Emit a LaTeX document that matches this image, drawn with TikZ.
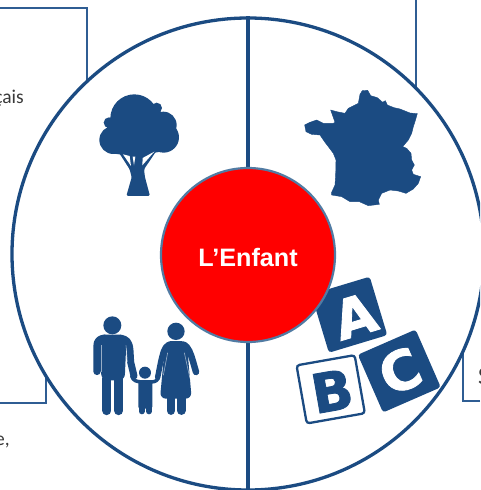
\documentclass[tikz,border=0pt]{standalone}
\usepackage{fontspec}
\setmainfont{Carlito}
\newfontfamily\arialb{Liberation Sans}[BoldFont={Liberation Sans Bold}]
\newfontfamily\heavy{DejaVu Sans Bold}[FakeBold=1.6]
\definecolor{navy}{HTML}{1B4B82}
\definecolor{frameblue}{HTML}{2F5D93}
\definecolor{ringgray}{HTML}{517BA3}
\definecolor{inkgray}{HTML}{3A3A3A}
\tikzset{
  framelines/.style={draw=frameblue,line width=1.8pt,line join=miter},
  cut/.style={fill=white,draw=none},
  solid shape/.style={fill=navy,draw=navy,line width=.4pt,line join=round},
  limb/.style={draw=navy,line cap=round,line join=round},
  seam/.style={draw=white,draw opacity=.55,line width=.6pt},
  snippet/.style={text=inkgray,font=\fontsize{19.5}{22}\selectfont,inner sep=0pt},
  block/.style={minimum size=#1,inner sep=0pt,rounded corners=3pt},
  blockletter/.style={inner sep=0pt,font=\heavy\fontsize{54}{54}\selectfont}
}
\begin{document}
\begin{tikzpicture}[x=1pt,y=-1pt]
\useasboundingbox (0,0) rectangle (480,490);
\clip (0,0) rectangle (480,490);
\fill[white] (0,0) rectangle (480,490);
% frames behind the ring
\coordinate (tlA) at (0,8); \coordinate (tlB) at (87,8); \coordinate (tlC) at (87,90);
\draw[framelines] (tlA) -- (tlB) -- (tlC);
\coordinate (blA) at (0,403); \coordinate (blB) at (46,403); \coordinate (blC) at (46,370);
\draw[framelines] (blA) -- (blB) -- (blC);
\coordinate (trA) at (416,0); \coordinate (trB) at (416,95);
\draw[framelines] (trA) -- (trB);
\coordinate (brA) at (480,401); \coordinate (brB) at (463,401); \coordinate (brC) at (463,350);
\draw[framelines] (brA) -- (brB) -- (brC);
% clipped snippets of text
\node[snippet,anchor=base east] (snipA) at (24,103) {çais};
\node[snippet,anchor=base east] (snipB) at (10,445) {e,};
\node[snippet,anchor=base west,font=\fontsize{25}{28}\selectfont] (snipC) at (478,384) {S};
% ring
\node[circle,draw=navy,fill=white,line width=3.3pt,minimum size=472pt,inner sep=0pt] (ring) at (248,254) {};
\draw[navy,line width=3.3pt] (ring.north) -- (ring.south);
% blocks
\node[block=61pt,fill=navy,rotate=16.8] (blockA) at (349.3,314.7) {};
\node[blockletter,text=white,rotate=16.8] (letterA) at (355,316) {A};
\node[block=59pt,draw=navy,line width=2.3pt,fill=white,rotate=10] (blockB) at (330.7,389.3) {};
\node[blockletter,text=navy,rotate=10] (letterB) at (332,391) {B};
\node[block=63pt,fill=navy,rotate=23.6] (blockC) at (399.3,371) {};
\node[blockletter,text=white,rotate=23.6] (letterC) at (400,371) {C};
% centre
\node[circle,draw=ringgray,fill=red,line width=2.2pt,minimum size=174pt,inner sep=0pt] (child) at (248,255) {};
\node[text=white,inner sep=0pt,anchor=base,font=\arialb\bfseries\fontsize{25.2}{28}\selectfont] (childlabel) at (248,266) {L’Enfant};
% tree
\begin{scope}[shift={(95pt,-90pt)},x=.3333pt,y=-.3333pt]
  \fill[navy] (118,85) circle (72) (185,54) circle (16) (205,105) circle (40)
    (206,142) circle (46) (55,150) circle (42) (42,98) circle (16);
  \fill[navy] (50,100) -- (225,100) -- (225,180) -- (180,188) -- (80,194) -- (50,190) -- cycle;
  \fill[navy,rounded corners=1.5pt] (70,185) -- (104,238) -- (110,262) -- (94,318) -- (165,318) -- (150,262) -- (147,238) -- (184,183) -- cycle;
  \fill[cut] (84,193) -- (108,228) -- (104,198) -- cycle;
  \fill[cut] (113,200) -- (117,226) -- (121,200) -- cycle;
  \fill[cut] (178,185) -- (142,226) -- (143,204) -- cycle;
\end{scope}
% France
\begin{scope}[shift={(300pt,-85pt)},x=.3333pt,y=-.3333pt]
  \path[solid shape] (180,28) -- (187,17) -- (203,16) -- (212,32) -- (232,38) -- (248,52) -- (256,47) -- (262,60) -- (282,68) -- (300,72) -- (330,84) -- (352,86) -- (345,110) -- (340,125) -- (335,145) -- (325,165) -- (308,185) -- (320,190) -- (333,205) -- (335,225) -- (343,240) -- (335,255) -- (340,268) -- (362,275) -- (355,295) -- (340,312) -- (318,325) -- (295,318) -- (270,315) -- (245,325) -- (235,345) -- (238,358) -- (205,362) -- (178,350) -- (150,350) -- (125,335) -- (95,330) -- (95,322) -- (105,300) -- (107,270) -- (108,225) -- (100,205) -- (85,185) -- (75,172) -- (60,150) -- (35,148) -- (18,140) -- (14,120) -- (30,112) -- (50,105) -- (70,115) -- (100,115) -- (105,112) -- (92,75) -- (110,80) -- (135,85) -- (145,70) -- (175,55) -- cycle;
\end{scope}
% family
\begin{scope}[shift={(90pt,-312pt)},x=.3333pt,y=-.3333pt]
  % man
  \fill[navy] (67,40) circle (27);
  \fill[navy,rounded corners=6pt] (25,68) -- (110,68) -- (104,205) -- (35,205) -- cycle;
  \draw[limb,line width=7.5pt] (21,178) -- (21,105) .. controls (21,85) and (30,80) .. (45,79);
  \draw[limb,line width=7pt] (90,79) .. controls (110,80) and (118,90) .. (120,115) -- (122,150) -- (132,192);
  \draw[limb,line width=9pt] (51,200) -- (51,296);
  \draw[limb,line width=9pt] (86,200) -- (86,296);
  \draw[seam] (33,100) -- (33,180);
  \draw[seam] (108,100) -- (112,150);
  % child
  \fill[navy] (165,182) circle (18);
  \draw[limb,line width=3.5pt] (125,192) .. controls (130,208) and (140,208) .. (155,210) -- (175,210) .. controls (190,210) and (200,210) .. (205,198);
  \fill[navy,rounded corners=2pt] (145,207) -- (187,207) -- (187,290) -- (145,290) -- cycle;
  \draw[limb,line width=6pt] (155,280) -- (155,298);
  \draw[limb,line width=6pt] (177,280) -- (177,298);
  % woman
  \fill[navy] (258,58) circle (26);
  \fill[navy,rounded corners=6pt] (226,87) -- (290,87) -- (305,260) -- (210,260) -- cycle;
  \draw[limb,line width=5.5pt] (235,98) .. controls (222,105) and (218,125) .. (212,150) -- (203,196);
  \draw[limb,line width=6.5pt] (282,98) .. controls (295,105) and (302,125) .. (308,145) -- (318,180);
  \draw[seam] (233,122) -- (220,190);
  \draw[seam] (283,122) -- (300,200);
  \draw[limb,line width=8.5pt] (243,255) -- (243,296);
  \draw[limb,line width=8.5pt] (274,255) -- (274,296);
\end{scope}
\end{tikzpicture}
\end{document}
